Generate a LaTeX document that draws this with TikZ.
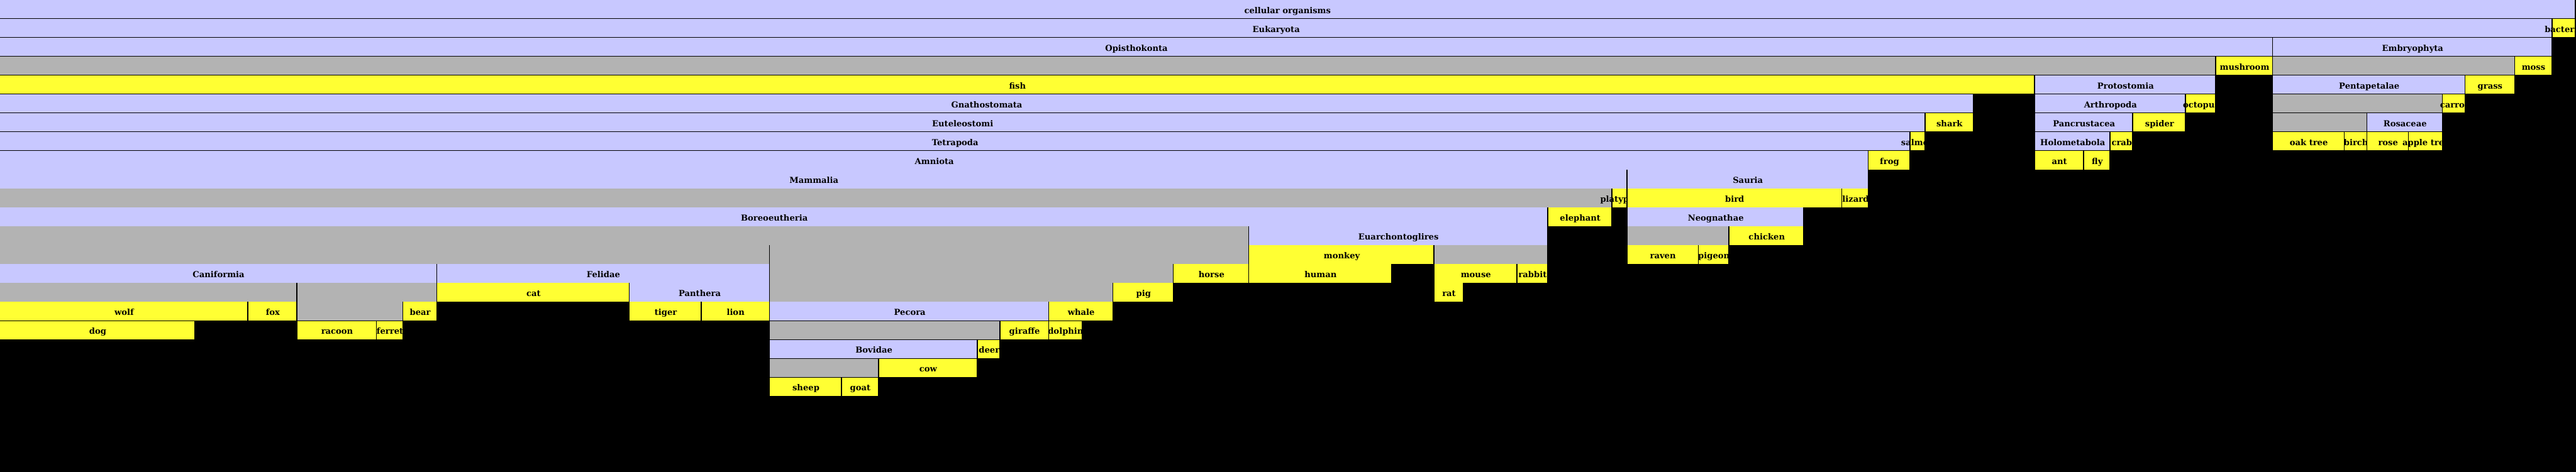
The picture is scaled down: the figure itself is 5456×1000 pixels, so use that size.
\documentclass[tikz,border=0pt]{standalone}
\usepackage{fontspec}
\setmainfont{DejaVu Serif}
\usepackage{tikz}
\usepackage{xcolor}
\definecolor{cladeblue}{RGB}{200,200,255}
\definecolor{leafyellow}{RGB}{255,255,51}
\definecolor{rankgray}{RGB}{179,179,179}

\begin{document}
\begin{tikzpicture}[x=1pt,y=-1pt,
  clade/.style={fill=cladeblue},
  leaf/.style={fill=leafyellow},
  blank/.style={fill=rankgray},
  lbl/.style={anchor=base,inner sep=0pt,font=\fontsize{17.5}{20}\selectfont\bfseries}]
\fill[black] (0,0) rectangle (5456,1000);
\useasboundingbox (0,0) rectangle (5456,1000);
% row 0
\fill[clade] (0,0) rectangle (5453,39);
\node[lbl] (cellorg) at (2727,28) {cellular organisms};
% row 1
\fill[clade] (0,40) rectangle (5404,79);
\node[lbl] (eukaryota) at (2703,68) {Eukaryota};
\fill[leaf] (5406,40) rectangle (5453,79);
\node[lbl] (bacteria) at (5430,68) {bacteria};
% row 2
\fill[clade] (0,80) rectangle (4812,119);
\node[lbl] (opisthokonta) at (2407,108) {Opisthokonta};
\fill[clade] (4814,80) rectangle (5404,119);
\node[lbl] (embryophyta) at (5110,108) {Embryophyta};
% row 3
\fill[blank] (0,120) rectangle (4692,159);
\fill[leaf] (4694,120) rectangle (4812,159);
\node[lbl] (mushroom) at (4754,148) {mushroom};
\fill[blank] (4814,120) rectangle (5325,159);
\fill[leaf] (5327,120) rectangle (5404,159);
\node[lbl] (moss) at (5366,148) {moss};
% row 4
\fill[leaf] (0,160) rectangle (4308,199);
\node[lbl] (fish) at (2155,188) {fish};
\fill[clade] (4310,160) rectangle (4692,199);
\node[lbl] (protostomia) at (4502,188) {Protostomia};
\fill[clade] (4814,160) rectangle (5220,199);
\node[lbl] (pentapetalae) at (5018,188) {Pentapetalae};
\fill[leaf] (5222,160) rectangle (5325,199);
\node[lbl] (grass) at (5274,188) {grass};
% row 5
\fill[clade] (0,200) rectangle (4179,239);
\node[lbl] (gnathostomata) at (2090,228) {Gnathostomata};
\fill[clade] (4310,200) rectangle (4628,239);
\node[lbl] (arthropoda) at (4470,228) {Arthropoda};
\fill[leaf] (4630,200) rectangle (4692,239);
\node[lbl] (octopus) at (4662,228) {octopus};
\fill[blank] (4814,200) rectangle (5172,239);
\fill[leaf] (5174,200) rectangle (5220,239);
\node[lbl] (carrot) at (5198,228) {carrot};
% row 6
\fill[clade] (0,240) rectangle (4076,279);
\node[lbl] (euteleostomi) at (2039,268) {Euteleostomi};
\fill[leaf] (4078,240) rectangle (4179,279);
\node[lbl] (shark) at (4129,268) {shark};
\fill[clade] (4310,240) rectangle (4516,279);
\node[lbl] (pancrustacea) at (4414,268) {Pancrustacea};
\fill[leaf] (4518,240) rectangle (4628,279);
\node[lbl] (spider) at (4574,268) {spider};
\fill[blank] (4814,240) rectangle (5012,279);
\fill[clade] (5014,240) rectangle (5172,279);
\node[lbl] (rosaceae) at (5094,268) {Rosaceae};
% row 7
\fill[clade] (0,280) rectangle (4044,319);
\node[lbl] (tetrapoda) at (2023,308) {Tetrapoda};
\fill[leaf] (4046,280) rectangle (4076,319);
\node[lbl] (salmon) at (4062,308) {salmon};
\fill[clade] (4310,280) rectangle (4468,319);
\node[lbl] (holometabola) at (4390,308) {Holometabola};
\fill[leaf] (4470,280) rectangle (4516,319);
\node[lbl] (crab) at (4494,308) {crab};
\fill[leaf] (4814,280) rectangle (4964,319);
\node[lbl] (oak) at (4890,308) {oak tree};
\fill[leaf] (4966,280) rectangle (5012,319);
\node[lbl] (birch) at (4990,308) {birch};
\fill[leaf] (5014,280) rectangle (5100,319);
\node[lbl] (rose) at (5058,308) {rose};
\fill[leaf] (5102,280) rectangle (5172,319);
\node[lbl] (apple) at (5138,308) {apple tree};
% row 8
\fill[clade] (0,320) rectangle (3956,359);
\node[lbl] (amniota) at (1979,348) {Amniota};
\fill[leaf] (3958,320) rectangle (4044,359);
\node[lbl] (frog) at (4002,348) {frog};
\fill[leaf] (4310,320) rectangle (4412,359);
\node[lbl] (ant) at (4362,348) {ant};
\fill[leaf] (4414,320) rectangle (4468,359);
\node[lbl] (fly) at (4442,348) {fly};
% row 9
\fill[clade] (0,360) rectangle (3445,399);
\node[lbl] (mammalia) at (1724,388) {Mammalia};
\fill[clade] (3447,360) rectangle (3956,399);
\node[lbl] (sauria) at (3702,388) {Sauria};
% row 10
\fill[blank] (0,400) rectangle (3413,439);
\fill[leaf] (3415,400) rectangle (3445,439);
\node[lbl] (platypus) at (3431,428) {platypus};
\fill[leaf] (3447,400) rectangle (3900,439);
\node[lbl] (bird) at (3674,428) {bird};
\fill[leaf] (3902,400) rectangle (3956,439);
\node[lbl] (lizard) at (3930,428) {lizard};
% row 11
\fill[clade] (0,440) rectangle (3277,479);
\node[lbl] (boreoeutheria) at (1640,468) {Boreoeutheria};
\fill[leaf] (3279,440) rectangle (3413,479);
\node[lbl] (elephant) at (3347,468) {elephant};
\fill[clade] (3447,440) rectangle (3819,479);
\node[lbl] (neognathae) at (3634,468) {Neognathae};
% row 12
\fill[blank] (0,480) rectangle (2644,519);
\fill[clade] (2646,480) rectangle (3277,519);
\node[lbl] (euarchontoglires) at (2962,508) {Euarchontoglires};
\fill[blank] (3447,480) rectangle (3661,519);
\fill[leaf] (3663,480) rectangle (3819,519);
\node[lbl] (chicken) at (3742,508) {chicken};
% row 13
\fill[blank] (0,520) rectangle (1629,559);
\fill[blank] (1631,520) rectangle (2644,559);
\fill[leaf] (2646,520) rectangle (3036,559);
\node[lbl] (monkey) at (2842,548) {monkey};
\fill[blank] (3038,520) rectangle (3277,559);
\fill[leaf] (3447,520) rectangle (3596,559);
\node[lbl] (raven) at (3522,548) {raven};
\fill[leaf] (3598,520) rectangle (3661,559);
\node[lbl] (pigeon) at (3630,548) {pigeon};
% row 14
\fill[clade] (0,560) rectangle (924,599);
\node[lbl] (caniformia) at (463,588) {Caniformia};
\fill[clade] (926,560) rectangle (1629,599);
\node[lbl] (felidae) at (1278,588) {Felidae};
\fill[blank] (1631,560) rectangle (2484,599);
\fill[leaf] (2486,560) rectangle (2644,599);
\node[lbl] (horse) at (2566,588) {horse};
\fill[leaf] (2646,560) rectangle (2947,599);
\node[lbl] (human) at (2797,588) {human};
\fill[leaf] (3038,560) rectangle (3212,599);
\node[lbl] (mouse) at (3126,588) {mouse};
\fill[leaf] (3214,560) rectangle (3277,599);
\node[lbl] (rabbit) at (3246,588) {rabbit};
% row 15
\fill[blank] (0,600) rectangle (628,639);
\fill[blank] (630,600) rectangle (924,639);
\fill[leaf] (926,600) rectangle (1332,639);
\node[lbl] (cat) at (1130,628) {cat};
\fill[clade] (1334,600) rectangle (1629,639);
\node[lbl] (panthera) at (1482,628) {Panthera};
\fill[blank] (1631,600) rectangle (2356,639);
\fill[leaf] (2358,600) rectangle (2484,639);
\node[lbl] (pig) at (2422,628) {pig};
\fill[leaf] (3038,600) rectangle (3098,639);
\node[lbl] (rat) at (3069,628) {rat};
% row 16
\fill[leaf] (0,640) rectangle (524,679);
\node[lbl] (wolf) at (263,668) {wolf};
\fill[leaf] (526,640) rectangle (628,679);
\node[lbl] (fox) at (578,668) {fox};
\fill[blank] (630,640) rectangle (852,679);
\fill[leaf] (854,640) rectangle (924,679);
\node[lbl] (bear) at (890,668) {bear};
\fill[leaf] (1334,640) rectangle (1484,679);
\node[lbl] (tiger) at (1410,668) {tiger};
\fill[leaf] (1486,640) rectangle (1629,679);
\node[lbl] (lion) at (1558,668) {lion};
\fill[clade] (1631,640) rectangle (2220,679);
\node[lbl] (pecora) at (1927,668) {Pecora};
\fill[leaf] (2222,640) rectangle (2356,679);
\node[lbl] (whale) at (2290,668) {whale};
% row 17
\fill[leaf] (0,680) rectangle (411,719);
\node[lbl] (dog) at (207,708) {dog};
\fill[leaf] (630,680) rectangle (796,719);
\node[lbl] (racoon) at (714,708) {racoon};
\fill[leaf] (798,680) rectangle (852,719);
\node[lbl] (ferret) at (826,708) {ferret};
\fill[blank] (1631,680) rectangle (2117,719);
\fill[leaf] (2119,680) rectangle (2220,719);
\node[lbl] (giraffe) at (2170,708) {giraffe};
\fill[leaf] (2222,680) rectangle (2291,719);
\node[lbl] (dolphin) at (2257,708) {dolphin};
% row 18
\fill[clade] (1631,720) rectangle (2069,759);
\node[lbl] (bovidae) at (1851,748) {Bovidae};
\fill[leaf] (2071,720) rectangle (2117,759);
\node[lbl] (deer) at (2095,748) {deer};
% row 19
\fill[blank] (1631,760) rectangle (1860,799);
\fill[leaf] (1862,760) rectangle (2069,799);
\node[lbl] (cow) at (1966,788) {cow};
% row 20
\fill[leaf] (1631,800) rectangle (1781,839);
\node[lbl] (sheep) at (1707,828) {sheep};
\fill[leaf] (1783,800) rectangle (1860,839);
\node[lbl] (goat) at (1822,828) {goat};
\end{tikzpicture}
\end{document}
